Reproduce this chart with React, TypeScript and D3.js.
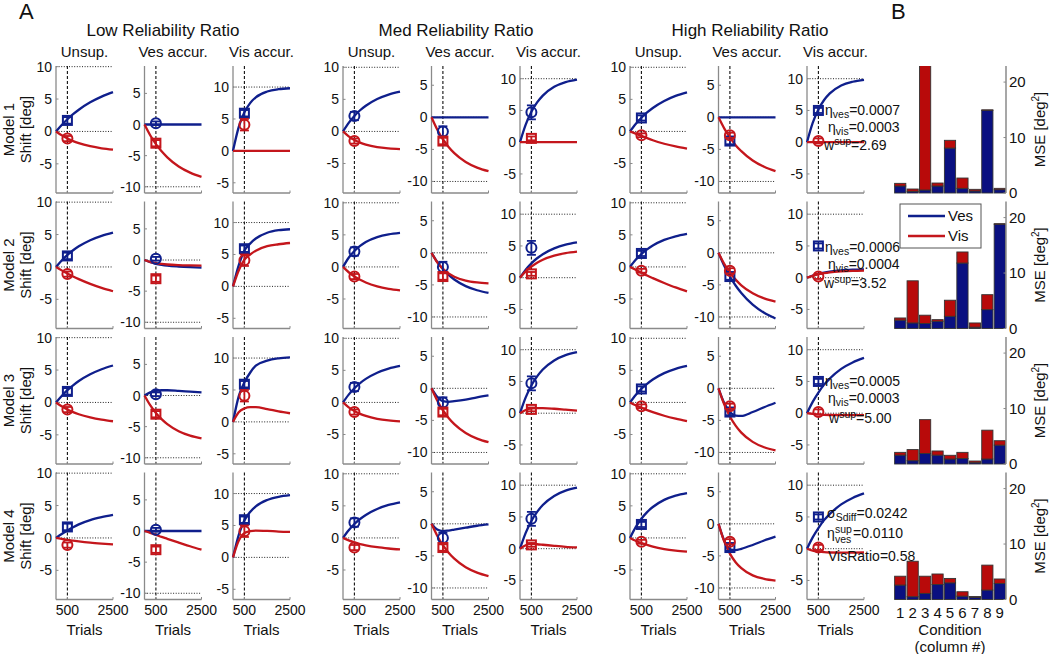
import React from 'react';
import * as d3 from 'd3';

// ---------- DATA ----------
const T = [0, 250, 500, 750, 1000, 1500, 2000, 2500];
const groupTitles = ['Low Reliability Ratio', 'Med Reliability Ratio', 'High Reliability Ratio'];
const conditionTitles = ['Unsup.', 'Ves accur.', 'Vis accur.'];
const modelLabels = ['Model 1', 'Model 2', 'Model 3', 'Model 4'];
const xTicks = [500, 2500];

// model curves, 9 panels each: Low(Unsup,Ves,Vis), Med(...), High(...)
const model1Ves = [
  [0, 1.0, 1.88, 2.66, 3.35, 4.49, 5.37, 6.06],
  [0, 0, 0, 0, 0, 0, 0, 0],
  [0, 3.72, 6.05, 7.49, 8.4, 9.3, 9.67, 9.81],
  [0, 1.33, 2.42, 3.3, 4.0, 5.05, 5.75, 6.2],
  [0, 0, 0, 0, 0, 0, 0, 0],
  [0, 2.76, 4.79, 6.26, 7.34, 8.72, 9.46, 9.85],
  [0, 1.15, 2.13, 2.96, 3.66, 4.75, 5.54, 6.1],
  [0, 0, 0, 0, 0, 0, 0, 0],
  [0, 3.03, 5.15, 6.64, 7.68, 8.92, 9.52, 9.82],
];
const model1Vis = [
  [0, -0.6, -1.09, -1.49, -1.81, -2.28, -2.6, -2.8],
  [0, -1.72, -3.14, -4.31, -5.27, -6.74, -7.72, -8.4],
  [0, 0, 0, 0, 0, 0, 0, 0],
  [0, -0.77, -1.34, -1.75, -2.05, -2.44, -2.64, -2.75],
  [0, -1.9, -3.42, -4.62, -5.59, -6.96, -7.84, -8.4],
  [0, 0, 0, 0, 0, 0, 0, 0],
  [0, -0.35, -0.7, -1.05, -1.38, -1.92, -2.35, -2.7],
  [0, -1.72, -3.14, -4.34, -5.27, -6.74, -7.72, -8.4],
  [0, 0, 0, 0, 0, 0, 0, 0],
];
const model2Ves = [
  [0, 1.0, 1.85, 2.57, 3.18, 4.13, 4.8, 5.3],
  [0, -0.35, -0.6, -0.77, -0.9, -1.05, -1.15, -1.22],
  [0, 3.3, 5.6, 6.7, 7.5, 8.4, 8.8, 8.95],
  [0, 1.43, 2.49, 3.28, 3.88, 4.64, 5.07, 5.3],
  [0, -1.41, -2.54, -3.44, -4.16, -5.19, -5.84, -6.25],
  [0, 1.26, 2.26, 3.06, 3.7, 4.61, 5.2, 5.55],
  [0, 1.11, 2.01, 2.74, 3.33, 4.21, 4.78, 5.16],
  [0, -2.01, -3.69, -5.1, -6.27, -8.08, -9.35, -10.23],
  [0, 0.35, 0.6, 0.8, 0.95, 1.15, 1.25, 1.3],
];
const model2Vis = [
  [0, -0.53, -1.02, -1.47, -1.88, -2.61, -3.23, -3.75],
  [0, -0.3, -0.5, -0.63, -0.72, -0.82, -0.87, -0.9],
  [0, 2.5, 4.2, 5.0, 5.6, 6.3, 6.6, 6.8],
  [0, -0.83, -1.49, -2.01, -2.43, -3.03, -3.41, -3.65],
  [0, -1.47, -2.5, -3.21, -3.72, -4.32, -4.61, -4.75],
  [0, 0.99, 1.76, 2.36, 2.83, 3.47, 3.87, 4.1],
  [0, -0.45, -0.9, -1.35, -1.75, -2.5, -3.2, -3.8],
  [0, -1.72, -3.09, -4.18, -5.06, -6.3, -7.1, -7.6],
  [0, 0.3, 0.55, 0.72, 0.85, 1.0, 1.08, 1.12],
];
const model3Ves = [
  [0, 1.0, 1.89, 2.64, 3.3, 4.34, 5.12, 5.7],
  [0, 0.5, 0.75, 0.85, 0.85, 0.75, 0.62, 0.5],
  [0, 4.0, 6.2, 7.7, 8.8, 9.6, 9.95, 10.1],
  [0, 1.22, 2.22, 3.02, 3.67, 4.63, 5.27, 5.69],
  [0, -1.3, -2.0, -2.1, -2.0, -1.75, -1.4, -1.1],
  [0, 2.49, 4.37, 5.79, 6.88, 8.31, 9.14, 9.6],
  [0, 1.17, 2.13, 2.9, 3.57, 4.57, 5.24, 5.7],
  [0, -2.3, -3.7, -4.25, -4.3, -3.7, -2.95, -2.25],
  [0, 1.78, 3.25, 4.5, 5.46, 6.98, 7.99, 8.7],
];
const model3Vis = [
  [0, -0.6, -1.1, -1.5, -1.82, -2.3, -2.65, -2.9],
  [0, -1.56, -2.81, -3.8, -4.6, -5.73, -6.45, -6.9],
  [0, 1.5, 2.1, 2.3, 2.3, 2.0, 1.65, 1.35],
  [0, -0.77, -1.34, -1.78, -2.11, -2.56, -2.81, -2.95],
  [0, -1.9, -3.42, -4.62, -5.59, -6.96, -7.84, -8.4],
  [0, 0.5, 0.75, 0.8, 0.8, 0.7, 0.55, 0.4],
  [0, -0.44, -0.83, -1.19, -1.52, -2.08, -2.53, -2.9],
  [0, -2.5, -4.39, -5.82, -6.91, -8.35, -9.19, -9.66],
  [0, -0.1, -0.2, -0.25, -0.28, -0.3, -0.3, -0.3],
];
const model4Ves = [
  [0, 0.6, 1.15, 1.65, 2.1, 2.75, 3.2, 3.55],
  [0, 0, 0, 0, 0, 0, 0, 0],
  [0, 3.5, 5.8, 7.1, 8.0, 9.0, 9.5, 9.75],
  [0, 1.19, 2.17, 2.95, 3.58, 4.52, 5.14, 5.55],
  [0, -0.9, -1.15, -1.05, -0.9, -0.6, -0.3, -0.1],
  [0, 2.49, 4.37, 5.79, 6.88, 8.31, 9.14, 9.6],
  [0, 1.69, 3.0, 4.03, 4.82, 5.93, 6.6, 7.0],
  [0, -2.6, -4.0, -4.1, -3.9, -3.3, -2.6, -2.0],
  [0, 1.78, 3.25, 4.5, 5.46, 6.98, 7.99, 8.7],
];
const model4Vis = [
  [0, -0.15, -0.3, -0.42, -0.53, -0.72, -0.87, -1.0],
  [0, -0.3, -0.62, -0.95, -1.25, -1.85, -2.45, -3.0],
  [0, 2.6, 3.8, 4.1, 4.2, 4.15, 4.05, 4.0],
  [0, -0.38, -0.7, -0.95, -1.15, -1.45, -1.65, -1.8],
  [0, -1.85, -3.33, -4.5, -5.43, -6.76, -7.6, -8.15],
  [0, 0.55, 0.75, 0.7, 0.62, 0.45, 0.3, 0.2],
  [0, -0.44, -0.8, -1.09, -1.35, -1.73, -1.98, -2.15],
  [0, -2.73, -4.64, -5.98, -6.92, -8.04, -8.58, -8.85],
  [0, -0.3, -0.45, -0.55, -0.6, -0.62, -0.62, -0.6],
];
const vesCurves = [model1Ves, model2Ves, model3Ves, model4Ves];
const visCurves = [model1Vis, model2Vis, model3Vis, model4Vis];

// behavioural data (same in every row), measured at trial 500
const dataTrial = 500;
const dataVes = [1.7, 0.2, 5.9, 2.4, -2.2, 4.7, 2.1, -3.7, 5.0];
const dataVesErr = [0.5, 0.3, 0.5, 0.65, 0.8, 1.1, 0.4, 0.5, 0.4];
const dataVesShape = ['s', 'o', 's', 'o', 'o', 'o', 's', 's', 's'];
const dataVis = [-1.1, -3.0, 4.1, -1.5, -3.7, 0.6, -0.6, -2.8, 0.2];
const dataVisErr = [0.4, 0.5, 0.9, 0.4, 0.5, 0.3, 0.3, 0.4, 0.4];
const dataVisShape = ['o', 's', 'o', 'o', 's', 's', 'o', 'o', 'o'];

// panel B: MSE per condition (column #)
const conditionNums = [1, 2, 3, 4, 5, 6, 7, 8, 9];
const mseVes = [
  [1.26, 0.3, 0.54, 1.26, 8.1, 0.84, 0.36, 14.9, 0.6],
  [1.5, 1.0, 0.9, 1.3, 2.2, 11.8, 0.24, 3.4, 18.8],
  [1.6, 0.6, 1.9, 1.6, 0.9, 1.0, 0.24, 0.9, 3.4],
  [2.6, 0.5, 1.1, 2.7, 3.0, 0.6, 0.36, 1.7, 2.9],
];
const mseVis = [
  [0.48, 0.42, 23.5, 0.54, 1.4, 1.86, 0.3, 0.1, 0.24],
  [0.4, 7.6, 1.5, 0.3, 2.9, 2.0, 0.76, 2.7, 0.1],
  [0.5, 2.0, 6.1, 0.75, 0.67, 1.1, 0.3, 5.2, 0.8],
  [1.6, 6.4, 3.1, 1.9, 0.8, 0.8, 0.18, 4.5, 0.8],
];
const mseTicks = [0, 10, 20];

// fitted parameter annotations (High Reliability, Vis accur. panels)
const paramText = [
  ['0.0007', '0.0003', '2.69'],
  ['0.0006', '0.0004', '3.52'],
  ['0.0005', '0.0003', '5.00'],
  ['0.0242', '0.0110', '0.58'],
];
const legendLabels = ['Ves', 'Vis'];

// ---------- STYLE / LAYOUT ----------
const BLUE = '#0f1f8c';
const RED = '#c4161c';
const BAR_BLUE = '#0a1080';
const BAR_RED = '#b80a0a';
const AXIS = '#8a8a8a';
const FONT = '"Liberation Sans", Arial, Helvetica, sans-serif';

const groupX = [56, 343, 630];
const colStep = 88.5;
const panelW = 57;
const panelH = 127;
const rowTop = (r: number) => 66 + r * 135.5;

const yDomain = (g: number, c: number): [number, number] => {
  if (g === 0) return ([[-9.5, 10.1], [-11, 9.4], [-6.6, 13.3]] as [number, number][])[c];
  return ([[-9.6, 10.2], [-11.8, 8], [-8, 12]] as [number, number][])[c];
};
const yTicksFor = (c: number) => (c === 1 ? [-10, -5, 0, 5] : [-5, 0, 5, 10]);
const refLinesFor = (c: number) => (c === 1 ? [0, -10] : [0, 10]);

function Marker({ x, y, shape, color }: { x: number; y: number; shape: string; color: string }) {
  if (shape === 's') {
    return <rect x={x - 4.5} y={y - 4.5} width={9} height={9} fill="none" stroke={color} strokeWidth={2} />;
  }
  return <circle cx={x} cy={y} r={5} fill="none" stroke={color} strokeWidth={2} />;
}

function Panel({ g, c, r }: { g: number; c: number; r: number }) {
  const idx = g * 3 + c;
  const x0 = groupX[g] + c * colStep;
  const y0 = rowTop(r);
  const xs = d3.scaleLinear().domain([0, 2500]).range([x0, x0 + panelW]);
  const ys = d3.scaleLinear().domain(yDomain(g, c)).range([y0 + panelH, y0]);
  const line = d3
    .line<number>()
    .x((_, i) => xs(T[i]))
    .y((d) => ys(d))
    .curve(d3.curveMonotoneX);
  const blue = vesCurves[r][idx];
  const red = visCurves[r][idx];
  const mx = xs(dataTrial);
  const errBar = (v: number, e: number, color: string) => (
    <g stroke={color} strokeWidth={1.8}>
      <line x1={mx} x2={mx} y1={ys(v - e)} y2={ys(v + e)} />
      <line x1={mx - 4.5} x2={mx + 4.5} y1={ys(v - e)} y2={ys(v - e)} />
      <line x1={mx - 4.5} x2={mx + 4.5} y1={ys(v + e)} y2={ys(v + e)} />
    </g>
  );
  return (
    <g>
      {refLinesFor(c).map((v) => (
        <line key={v} x1={x0} x2={x0 + panelW} y1={ys(v)} y2={ys(v)} stroke="#222" strokeWidth={1} strokeDasharray="1,1.6" />
      ))}
      <line x1={xs(500)} x2={xs(500)} y1={y0} y2={y0 + panelH} stroke="#111" strokeWidth={1.1} strokeDasharray="3,2" />
      <line x1={x0} x2={x0} y1={y0} y2={y0 + panelH} stroke={AXIS} strokeWidth={1.3} />
      <line x1={x0} x2={x0 + panelW} y1={y0 + panelH} y2={y0 + panelH} stroke={AXIS} strokeWidth={1.3} />
      {yTicksFor(c).map((v) => (
        <g key={v}>
          <line x1={x0} x2={x0 + 2.5} y1={ys(v)} y2={ys(v)} stroke={AXIS} />
          <text x={x0 - 4} y={ys(v) + 5} textAnchor="end" fontSize={14} fontFamily={FONT} fill="#111">
            {v}
          </text>
        </g>
      ))}
      {xTicks.map((v) => (
        <line key={v} x1={xs(v)} x2={xs(v)} y1={y0 + panelH} y2={y0 + panelH - 2.5} stroke={AXIS} />
      ))}
      <path d={line(blue) || ''} fill="none" stroke={BLUE} strokeWidth={2.3} />
      <path d={line(red) || ''} fill="none" stroke={RED} strokeWidth={2.3} />
      {errBar(dataVes[idx], dataVesErr[idx], BLUE)}
      <Marker x={mx} y={ys(dataVes[idx])} shape={dataVesShape[idx]} color={BLUE} />
      {errBar(dataVis[idx], dataVisErr[idx], RED)}
      <Marker x={mx} y={ys(dataVis[idx])} shape={dataVisShape[idx]} color={RED} />
      {r === 3 &&
        xTicks.map((v) => (
          <text key={v} x={xs(v)} y={615} textAnchor="middle" fontSize={14} fontFamily={FONT} fill="#111">
            {v}
          </text>
        ))}
      {r === 3 && (
        <text x={x0 + panelW / 2} y={635} textAnchor="middle" fontSize={15} fontFamily={FONT} fill="#111">
          Trials
        </text>
      )}
    </g>
  );
}

function Annotation({ r }: { r: number }) {
  const y0 = rowTop(r);
  const p = paramText[r];
  const fs = 14;
  const ss = 10.5;
  if (r < 3) {
    const yb = [[49, 66, 84], [50, 67, 86], [49, 66, 86]][r];
    return (
      <g fontFamily={FONT} fill="#111" fontSize={fs}>
        <text x={825} y={y0 + yb[0]}>
          η<tspan fontSize={ss} dy={3}>ves</tspan>
          <tspan dy={-3}>={p[0]}</tspan>
        </text>
        <text x={828} y={y0 + yb[1]}>
          η<tspan fontSize={ss} dy={3}>vis</tspan>
          <tspan dy={-3}>={p[1]}</tspan>
        </text>
        <text x={r === 2 ? 829 : 824} y={y0 + yb[2]}>
          w<tspan fontSize={ss} dy={-5}>sup</tspan>
          <tspan dy={5}>={p[2]}</tspan>
        </text>
      </g>
    );
  }
  const x = 827;
  return (
    <g fontFamily={FONT} fill="#111" fontSize={fs}>
      <text x={x} y={y0 + 45}>
        σ<tspan fontSize={ss} dy={3}>Sdiff</tspan>
        <tspan dy={-3}>={p[0]}</tspan>
      </text>
      <text x={x} y={y0 + 65}>η</text>
      <text x={x + 8} y={y0 + 60} fontSize={ss}>sup</text>
      <text x={x + 8} y={y0 + 70} fontSize={ss}>ves</text>
      <text x={x + 26} y={y0 + 65}>={p[1]}</text>
      <text x={x + 1} y={y0 + 88}>VisRatio={p[2]}</text>
    </g>
  );
}

function BarPanel({ r }: { r: number }) {
  const y0 = rowTop(r);
  const xb = d3
    .scaleBand<number>()
    .domain(conditionNums)
    .range([894, 1006])
    .paddingInner(0.1)
    .paddingOuter(0.05);
  const ys = d3.scaleLinear().domain([0, 22.9]).range([y0 + panelH, y0]);
  const axX = 1006;
  const clipId = `clipB${r}`;
  return (
    <g>
      <defs>
        <clipPath id={clipId}>
          <rect x={880} y={y0} width={130} height={panelH + 2} />
        </clipPath>
      </defs>
      <g clipPath={`url(#${clipId})`}>
        {conditionNums.map((n, i) => {
          const b = mseVes[r][i];
          const v = mseVis[r][i];
          const x = xb(n) as number;
          return (
            <g key={n}>
              <rect x={x} y={ys(b)} width={xb.bandwidth()} height={ys(0) - ys(b)} fill={BAR_BLUE} stroke="#333" strokeWidth={0.9} />
              <rect x={x} y={ys(b + v)} width={xb.bandwidth()} height={ys(b) - ys(b + v)} fill={BAR_RED} stroke="#333" strokeWidth={0.9} />
            </g>
          );
        })}
      </g>
      <line x1={axX} x2={axX} y1={y0} y2={y0 + panelH} stroke={AXIS} strokeWidth={1.5} />
      {mseTicks.map((t) => (
        <g key={t}>
          <line x1={axX - 2.5} x2={axX} y1={ys(t)} y2={ys(t)} stroke={AXIS} />
          <text x={axX + 3} y={ys(t) + 5} fontSize={15} fontFamily={FONT} fill="#111">
            {t}
          </text>
        </g>
      ))}
      <text
        transform={`translate(1045,${y0 + panelH / 2}) rotate(-90)`}
        textAnchor="middle"
        fontSize={15}
        fontFamily={FONT}
        fill="#111"
      >
        MSE [deg<tspan fontSize={10} dy={-6}>2</tspan>
        <tspan dy={6}>]</tspan>
      </text>
      {r === 3 &&
        conditionNums.map((n) => (
          <text key={n} x={(xb(n) as number) + xb.bandwidth() / 2} y={618} textAnchor="middle" fontSize={15} fontFamily={FONT} fill="#111">
            {n}
          </text>
        ))}
      {r === 3 && (
        <g fontSize={15} fontFamily={FONT} fill="#111" textAnchor="middle">
          <text x={950} y={635}>Condition</text>
          <text x={950} y={652}>(column #)</text>
        </g>
      )}
    </g>
  );
}

export default function App() {
  return (
    <svg
      width={1050}
      height={654}
      style={{ position: 'absolute', left: 0, top: 0, background: '#fff' }}
      fontFamily={FONT}
    >
      <rect x={0} y={0} width={1050} height={654} fill="#fff" />
      <text x={19} y={19} fontSize={22} fill="#111">A</text>
      <text x={891} y={19} fontSize={22} fill="#111">B</text>
      {groupTitles.map((t, g) => (
        <text key={t} x={[163, 456, 750][g]} y={36} textAnchor="middle" fontSize={17} fill="#111">
          {t}
        </text>
      ))}
      {groupTitles.map((_, g) =>
        conditionTitles.map((ct, c) => (
          <text key={`${g}-${c}`} x={groupX[g] + c * colStep + panelW / 2} y={57} textAnchor="middle" fontSize={15} fill="#111">
            {ct}
          </text>
        ))
      )}
      {modelLabels.map((m, r) => (
        <g key={m} transform={`translate(0,${rowTop(r) + panelH / 2})`}>
          <text transform="translate(14,0) rotate(-90)" textAnchor="middle" fontSize={15} fill="#111">
            {m}
          </text>
          <text transform="translate(31,0) rotate(-90)" textAnchor="middle" fontSize={15} fill="#111">
            Shift [deg]
          </text>
        </g>
      ))}
      {modelLabels.map((_, r) =>
        [0, 1, 2].map((g) => [0, 1, 2].map((c) => <Panel key={`${r}-${g}-${c}`} g={g} c={c} r={r} />))
      )}
      {modelLabels.map((_, r) => (
        <Annotation key={`a${r}`} r={r} />
      ))}
      {modelLabels.map((_, r) => (
        <BarPanel key={`b${r}`} r={r} />
      ))}
      <g>
        <rect x={900} y={204} width={81} height={44} fill="#fff" stroke="#555" strokeWidth={1} />
        {legendLabels.map((l, i) => (
          <g key={l}>
            <line x1={908} x2={945} y1={216 + i * 20} y2={216 + i * 20} stroke={i === 0 ? BLUE : RED} strokeWidth={2.3} />
            <text x={948} y={221 + i * 20} fontSize={15} fill="#111">
              {l}
            </text>
          </g>
        ))}
      </g>
    </svg>
  );
}
